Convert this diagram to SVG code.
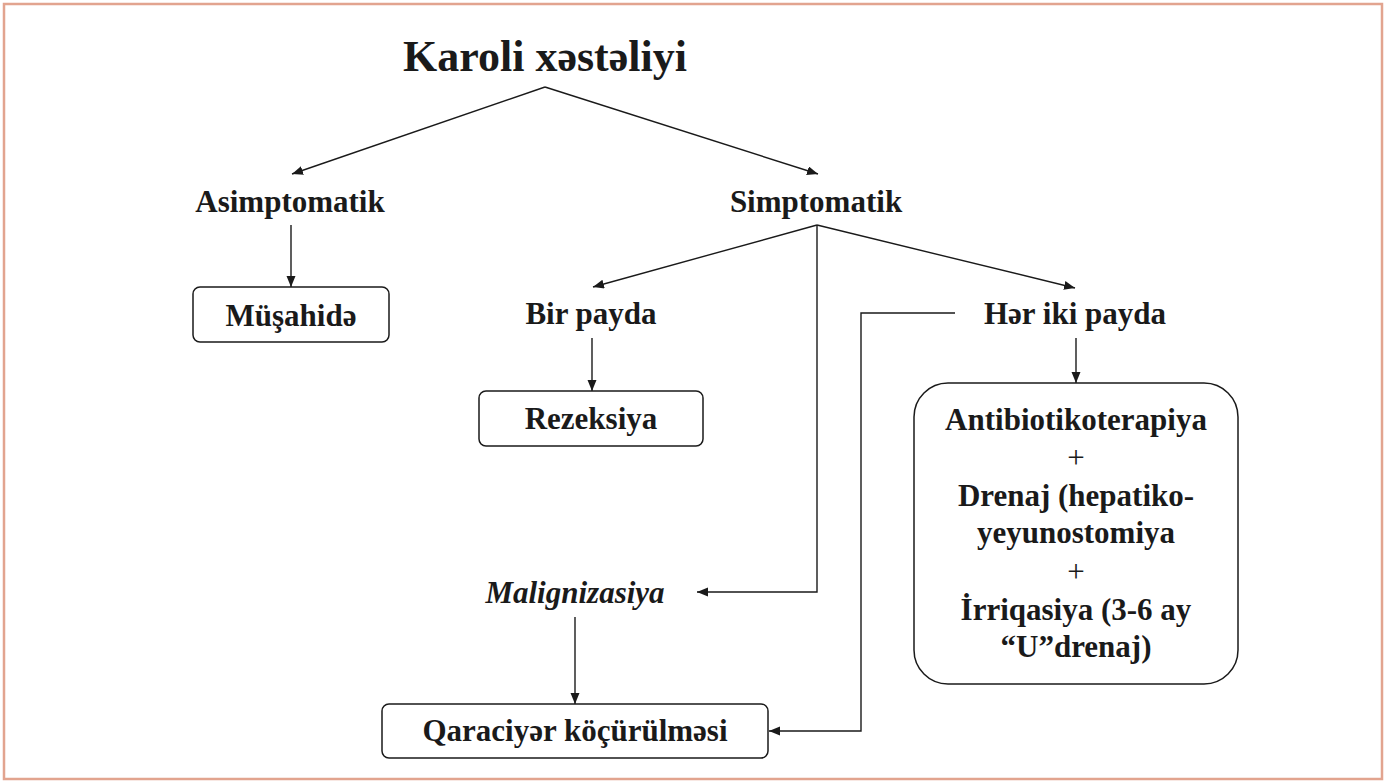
<svg xmlns="http://www.w3.org/2000/svg" width="1388" height="783" viewBox="0 0 1388 783">
<defs>
<style>
.t{font-family:"Liberation Serif","Times New Roman",serif;font-weight:bold;font-size:31px;fill:#1a1a1a;text-anchor:middle}
.ti{font-style:italic}
.title{font-size:44px}
.box{fill:#fff;stroke:#1a1a1a;stroke-width:1.5}
.c{fill:none;stroke:#1a1a1a;stroke-width:1.4}
</style>
<marker id="ah" markerUnits="userSpaceOnUse" markerWidth="12" markerHeight="10" refX="11" refY="4.5" orient="auto">
<path d="M0,0 L11,4.5 L0,9 Z" fill="#1a1a1a"/>
</marker>
</defs>
<rect x="0" y="0" width="1388" height="783" fill="#fff"/>
<rect x="4" y="4" width="1378" height="775" fill="#fff" stroke="#e2a48f" stroke-width="2.5"/>
<g id="connectors">
<path class="c" d="M545,87 L292,174" marker-end="url(#ah)"/>
<path class="c" d="M545,87 L818,174" marker-end="url(#ah)"/>
<path class="c" d="M291,225 L291,287" marker-end="url(#ah)"/>
<path class="c" d="M817,225 L593,287" marker-end="url(#ah)"/>
<path class="c" d="M817,225 L1075,288" marker-end="url(#ah)"/>
<path class="c" d="M817,225 L817,592 L697,592" marker-end="url(#ah)"/>
<path class="c" d="M592,338 L592,391" marker-end="url(#ah)"/>
<path class="c" d="M955,313 L861,313 L861,731 L769,731" marker-end="url(#ah)"/>
<path class="c" d="M1076,338 L1076,383" marker-end="url(#ah)"/>
<path class="c" d="M575,617 L575,704" marker-end="url(#ah)"/>
</g>
<g id="title"><text class="t title" x="545" y="71">Karoli xəstəliyi</text></g>
<g id="asimptomatik"><text class="t" x="290" y="212">Asimptomatik</text></g>
<g id="simptomatik"><text class="t" x="816" y="212">Simptomatik</text></g>
<g id="musahide"><rect class="box" x="193" y="287" width="196" height="55" rx="7"/><text class="t" x="291" y="326">Müşahidə</text></g>
<g id="bir-payda"><text class="t" x="591" y="324">Bir payda</text></g>
<g id="her-iki-payda"><text class="t" x="1075" y="324">Hər iki payda</text></g>
<g id="rezeksiya"><rect class="box" x="479" y="391" width="224" height="55" rx="7"/><text class="t" x="591" y="429">Rezeksiya</text></g>
<g id="mualice"><rect class="box" x="914" y="383" width="324" height="301" rx="34"/>
<text class="t" x="1076" y="430">Antibiotikoterapiya</text>
<text class="t" x="1076" y="468" style="font-weight:normal">+</text>
<text class="t" x="1076" y="506">Drenaj (hepatiko-</text>
<text class="t" x="1076" y="543">yeyunostomiya</text>
<text class="t" x="1076" y="582" style="font-weight:normal">+</text>
<text class="t" x="1076" y="620">İrriqasiya (3-6 ay</text>
<text class="t" x="1076" y="657">“U”drenaj)</text>
</g>
<g id="malignizasiya"><text class="t ti" x="575" y="603">Malignizasiya</text></g>
<g id="qaraciyer"><rect class="box" x="382" y="704" width="386" height="54" rx="7"/><text class="t" x="575" y="741">Qaraciyər köçürülməsi</text></g>
</svg>
